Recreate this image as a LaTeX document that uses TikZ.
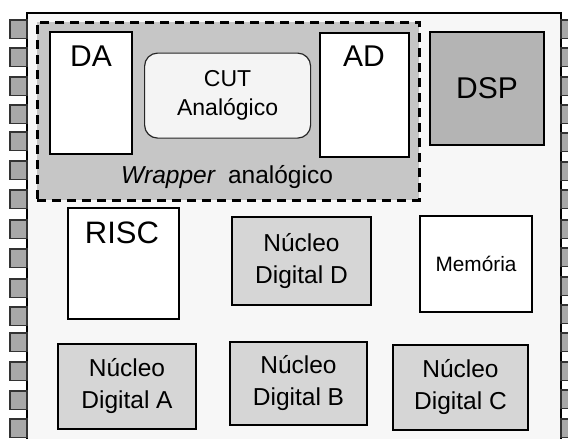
\documentclass[tikz,border=0pt]{standalone}
\usepackage{fontspec}
\setmainfont{Liberation Sans}
\definecolor{chipbg}{HTML}{F7F7F7}
\definecolor{wrapgray}{HTML}{C6C6C6}
\definecolor{dspgray}{HTML}{B4B4B4}
\definecolor{coregray}{HTML}{D6D6D6}
\definecolor{pingray}{HTML}{A8A8A8}
\definecolor{cutbg}{HTML}{F4F4F4}
\begin{document}
\begin{tikzpicture}[x=1pt,y=-1pt,
  blk/.style={draw=black, line width=2.6pt, inner sep=0pt, outer sep=0pt, anchor=north west, align=center},
  core/.style={blk, fill=coregray, font=\fontsize{24.5}{32}\selectfont},
  pin/.style={draw=black!80, fill=pingray, line width=1.1pt},
  big/.style={font=\fontsize{30}{36}\selectfont, anchor=base, inner sep=0pt}]
\useasboundingbox (0,0) rectangle (568,439);
\fill[white] (0,0) rectangle (568,439);
% chip body
\draw[fill=chipbg, line width=1.3pt] (27,445) -- (27,13) -- (561,13) -- (561,445);
% pins
\foreach \t in {20,48,77,105,132,161,190,220,249,279,307,333,362,391,419}{
  \draw[pin] (10,\t) rectangle (27,\t+18.5);
}
\foreach \t in {20,48,77,105,133,162,190,220,248,277,305,333,362,390,419}{
  \draw[pin] (561,\t) rectangle (575,\t+18.5);
}
% wrapper
\node[draw=black, fill=wrapgray, line width=2.8pt, dash pattern=on 9pt off 6pt, inner sep=0pt, anchor=north west,
  minimum width=382, minimum height=178] (wrap) at (36,21) {};
\node[anchor=base, inner sep=0pt, font=\fontsize{24.5}{29}\selectfont] (wraptxt) at (227,183) {\textit{Wrapper}\hspace{0.5em}analógico};
% DA, CUT, AD
\node[blk, fill=white, minimum width=82, minimum height=122] (da) at (50,32) {};
\node[big] (datxt) at (91,66) {DA};
\node[draw=black!85, fill=cutbg, line width=1.2pt, rounded corners=13pt, inner sep=0pt, anchor=north west,
  minimum width=166, minimum height=85, align=center, font=\fontsize{23}{29}\selectfont] (cut) at (144,52.5) {CUT\\Analógico};
\node[blk, fill=white, minimum width=89, minimum height=124] (ad) at (320,33) {};
\node[big] (adtxt) at (364,66) {AD};
% DSP
\node[blk, fill=dspgray, minimum width=114, minimum height=113, font=\fontsize{30}{36}\selectfont] (dsp) at (430,32) {DSP};
% RISC
\node[blk, fill=white, minimum width=111, minimum height=111] (risc) at (68,208) {};
\node[big, font=\fontsize{31}{36}\selectfont] (risctxt) at (122,243) {RISC};
% digital cores
\node[core, minimum width=139, minimum height=88] (ndd) at (232,217) {Núcleo\\Digital D};
\node[blk, fill=white, minimum width=112, minimum height=96, font=\fontsize{20.8}{25}\selectfont] (mem) at (420,216) {Memória};
\node[core, minimum width=138, minimum height=85] (nda) at (58,344) {Núcleo\\Digital A};
\node[core, minimum width=137, minimum height=83] (ndb) at (230,342) {Núcleo\\Digital B};
\node[core, minimum width=135, minimum height=85] (ndc) at (393,345) {Núcleo\\Digital C};
\end{tikzpicture}
\end{document}
